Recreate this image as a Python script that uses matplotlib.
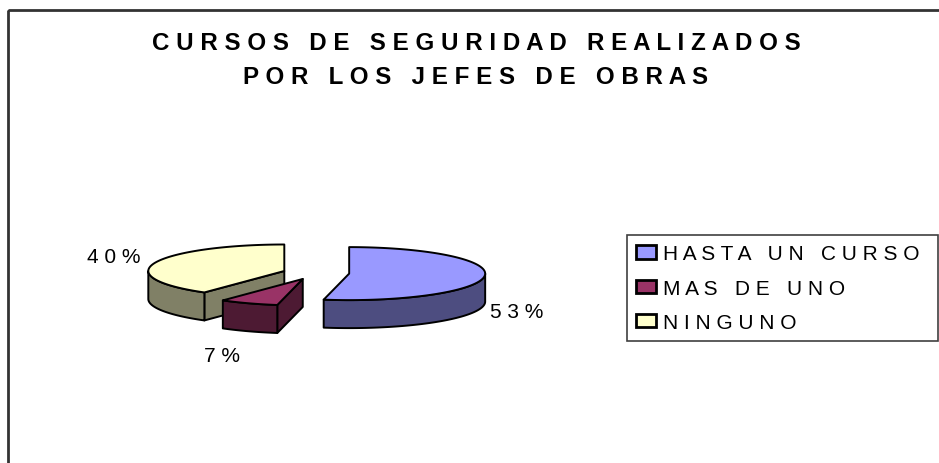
import numpy as np
import matplotlib.pyplot as plt
from matplotlib.patches import Polygon, Rectangle, Patch

plt.rcParams['font.family'] = ['Liberation Sans', 'DejaVu Sans']

# data
title_lines = ["CURSOS DE SEGURIDAD REALIZADOS", "POR LOS JEFES DE OBRAS"]
categories = ["HASTA UN CURSO", "MAS DE UNO", "NINGUNO"]
values = [53, 7, 40]
top_colors = ["#9999FF", "#993366", "#FFFFCC"]
side_colors = ["#4D4D80", "#4D1A33", "#808066"]


def spaced(s):
    # excel-style wide letter spacing
    return " ".join(s)


W, H = 939, 464
fig = plt.figure(figsize=(W / 100, H / 100), dpi=100)
ax = fig.add_axes([0, 0, 1, 1])
ax.set_xlim(0, W)
ax.set_ylim(H, 0)
ax.axis('off')

# chart area border (runs off the right and bottom)
ax.add_patch(Rectangle((7.5, 10.5), W, H, fill=False, lw=2, ec='#333333'))

for i, line in enumerate(title_lines):
    ax.text(476, 43 + 34.5 * i, spaced(line), ha='center', va='center',
            fontsize=17.4, fontweight='bold')

# 3d pie geometry (pixels)
cx, cy = 316, 274
a, b, depth = 136, 26.5, 28
explode = 0.245

total = sum(values)
edges = np.concatenate([[0], np.cumsum(values)]) / total * 360


def ell(c, t):
    r = np.radians(t)
    return np.column_stack([c[0] + a * np.sin(r), c[1] - b * np.cos(r)])


slices = []
for i, v in enumerate(values):
    t1, t2 = edges[i], edges[i + 1]
    tm = np.radians((t1 + t2) / 2)
    c = (cx + explode * a * np.sin(tm), cy - explode * b * np.cos(tm))
    slices.append((c[1], i, t1, t2, c))

down = np.array([0, depth])
for _, i, t1, t2, c in sorted(slices):
    kw = dict(ec='black', lw=1.4, joinstyle='round')
    cpt = np.array(c)
    # radial cut faces facing the viewer
    for t, vis in ((t1, np.sin(np.radians(t1)) < -1e-6),
                   (t2, np.sin(np.radians(t2)) > 1e-6)):
        if vis:
            p = ell(c, [t])[0]
            ax.add_patch(Polygon([cpt, p, p + down, cpt + down],
                                 fc=side_colors[i], **kw))
    # outer rim, front half only
    lo, hi = max(t1, 90), min(t2, 270)
    if lo < hi:
        rim = ell(c, np.linspace(lo, hi, 80))
        ax.add_patch(Polygon(np.vstack([rim, (rim + down)[::-1]]),
                             fc=side_colors[i], **kw))
    # top face
    arc = ell(c, np.linspace(t1, t2, 120))
    ax.add_patch(Polygon(np.vstack([cpt, arc]), fc=top_colors[i], **kw))

    # percentage label
    tm = (t1 + t2) / 2
    s, co = np.sin(np.radians(tm)), np.cos(np.radians(tm))
    anchor = ell(c, [tm])[0] + (down if co < 0 else 0)
    anchor = anchor + 10 * np.array([s, -co]) + np.array([-5, 6])
    ha = 'left' if s > 0.3 else ('right' if s < -0.3 else 'center')
    va = 'top' if co < -0.3 else ('bottom' if co > 0.3 else 'center')
    pct = f"{round(values[i] / total * 100)}%"
    ax.text(anchor[0], anchor[1], spaced(pct), ha=ha, va=va, fontsize=15)

handles = [Patch(fc=top_colors[i], ec='black', lw=2) for i in range(len(values))]
leg = ax.legend(handles, [spaced(c) for c in categories],
                loc='upper left', bbox_to_anchor=(627 / W, 1 - 341 / H, 311 / W, 105 / H),
                bbox_transform=fig.transFigure, mode='expand', borderaxespad=0,
                fontsize=15, handlelength=0.96, handleheight=0.62,
                handletextpad=0.3, labelspacing=0.73, borderpad=0.45,
                fancybox=False, framealpha=1)
leg.get_frame().set_edgecolor('#404040')
leg.get_frame().set_linewidth(1.2)

fig.savefig('out.png', dpi=100)
